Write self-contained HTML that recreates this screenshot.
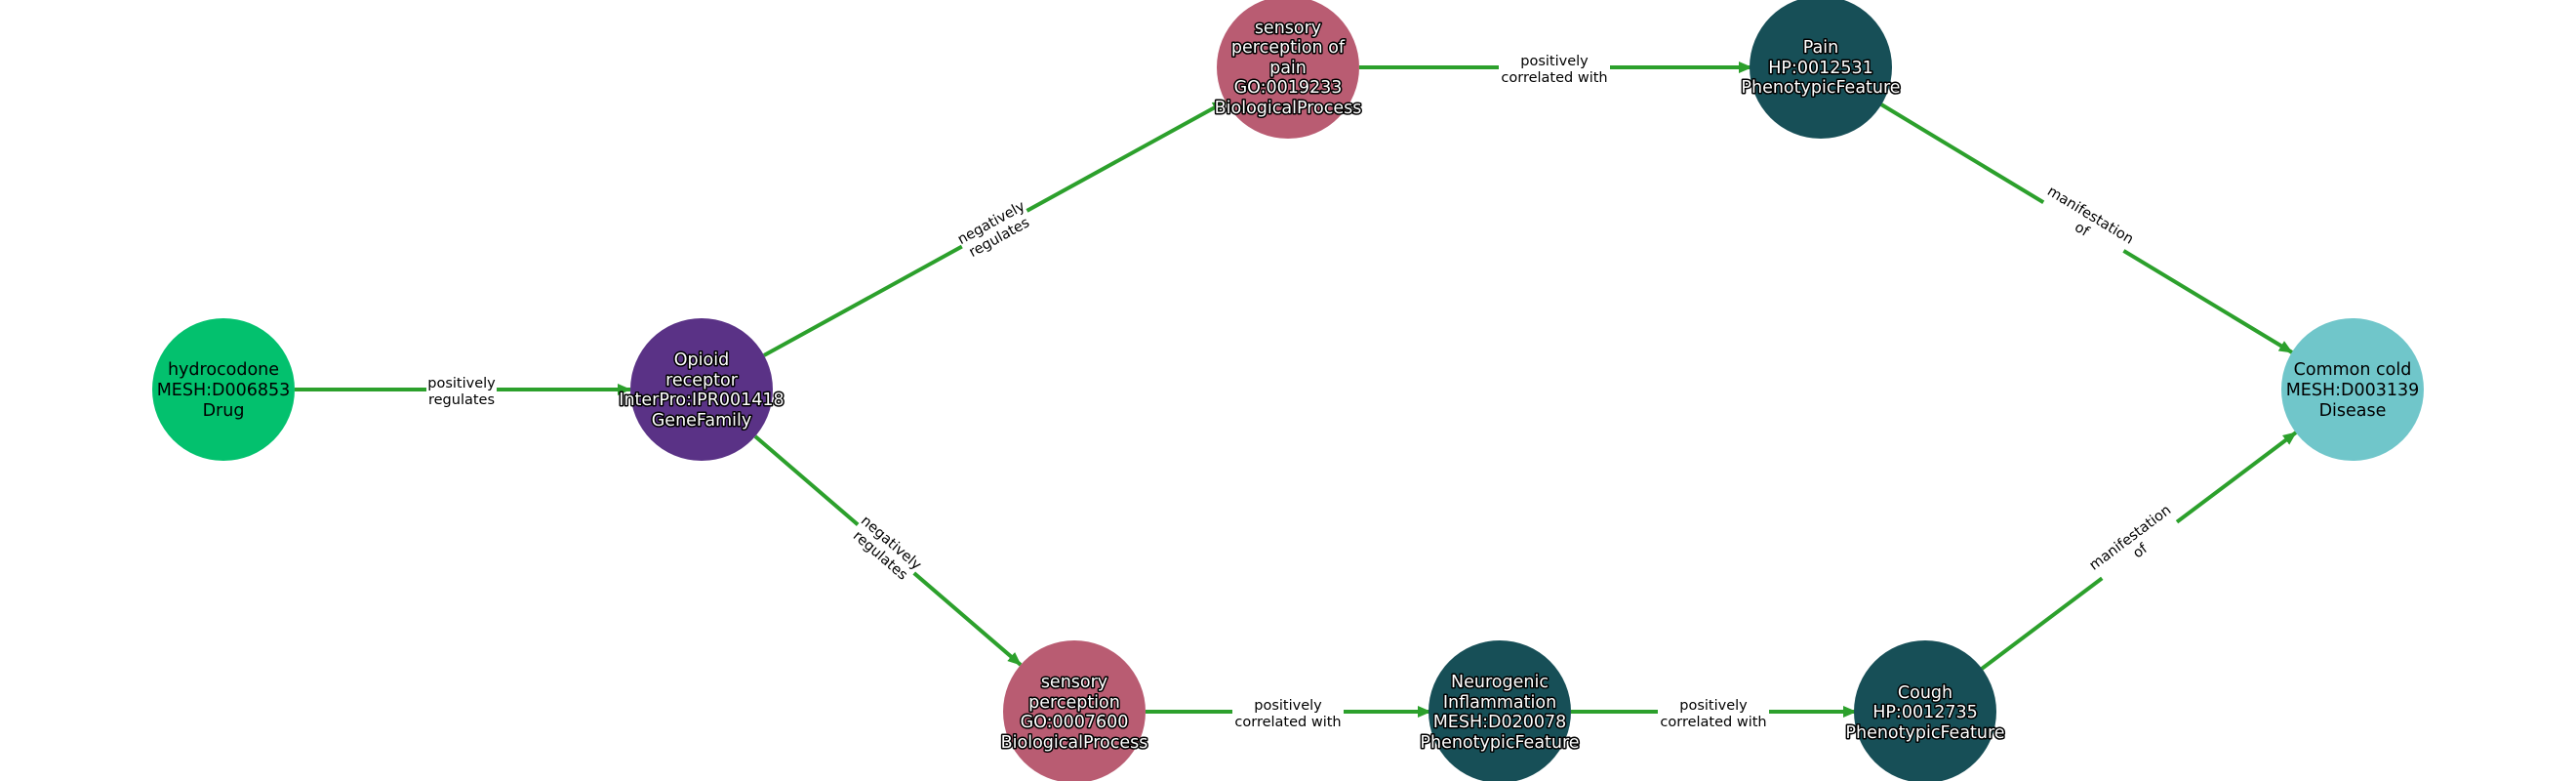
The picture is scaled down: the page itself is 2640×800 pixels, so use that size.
<!DOCTYPE html>
<html><head><meta charset="utf-8"><style>
html,body{margin:0;padding:0;background:#fff}
svg{display:block}
.n{font-family:"DejaVu Sans","Liberation Sans",sans-serif;font-size:17.5px;text-anchor:middle;fill:#fff;stroke:#000;stroke-width:3px;paint-order:stroke;stroke-linejoin:round}
.nb{font-family:"DejaVu Sans","Liberation Sans",sans-serif;font-size:17.5px;text-anchor:middle;fill:#000}
.e{font-family:"DejaVu Sans","Liberation Sans",sans-serif;font-size:14.5px;text-anchor:middle;fill:#000}
line{stroke:#2ca02c;stroke-width:4}
</style></head><body>
<svg width="2640" height="800" viewBox="0 0 2640 800" xmlns="http://www.w3.org/2000/svg">
<defs><marker id="a" markerUnits="userSpaceOnUse" markerWidth="14" markerHeight="12" refX="13" refY="6" orient="auto"><path d="M0,0 L14,6 L0,12 z" fill="#2ca02c"/></marker></defs>
<g marker-end="url(#a)">
<line x1="302" y1="399" x2="646" y2="399"/>
<line x1="783" y1="364" x2="1256" y2="104"/>
<line x1="774" y1="447" x2="1046" y2="681"/>
<line x1="1393" y1="69" x2="1795" y2="69"/>
<line x1="1928" y1="107" x2="2349" y2="361"/>
<line x1="1174" y1="729" x2="1466" y2="729"/>
<line x1="1610" y1="729" x2="1902" y2="729"/>
<line x1="2031" y1="685" x2="2353" y2="443"/>
</g>
<g transform="translate(473,399)"><rect x="-36" y="-18" width="72" height="36" fill="#fff"/><text class="e" y="-2">positively</text><text class="e" y="15">regulates</text></g>
<g transform="translate(1019,234) rotate(-28.8)"><rect x="-38" y="-18" width="76" height="36" fill="#fff"/><text class="e" y="-2">negatively</text><text class="e" y="15">regulates</text></g>
<g transform="translate(909,561) rotate(40.8)"><rect x="-38" y="-18" width="76" height="36" fill="#fff"/><text class="e" y="-2">negatively</text><text class="e" y="15">regulates</text></g>
<g transform="translate(1593,69)"><rect x="-57" y="-18" width="114" height="36" fill="#fff"/><text class="e" y="-2">positively</text><text class="e" y="15">correlated with</text></g>
<g transform="translate(2139,226) rotate(31.2)"><rect x="-48" y="-18" width="96" height="36" fill="#fff"/><text class="e" y="-2">manifestation</text><text class="e" y="15">of</text></g>
<g transform="translate(2187,556) rotate(-37)"><rect x="-48" y="-18" width="96" height="36" fill="#fff"/><text class="e" y="-2">manifestation</text><text class="e" y="15">of</text></g>
<g transform="translate(1320,729)"><rect x="-57" y="-18" width="114" height="36" fill="#fff"/><text class="e" y="-2">positively</text><text class="e" y="15">correlated with</text></g>
<g transform="translate(1756,729)"><rect x="-57" y="-18" width="114" height="36" fill="#fff"/><text class="e" y="-2">positively</text><text class="e" y="15">correlated with</text></g>
<circle cx="229" cy="399" r="73" fill="#03c16e"/>
<text class="nb" x="229" y="384">hydrocodone</text><text class="nb" x="229" y="405">MESH:D006853</text><text class="nb" x="229" y="426">Drug</text>
<circle cx="719" cy="399" r="73" fill="#5a3286"/>
<text class="n" x="719" y="374">Opioid</text><text class="n" x="719" y="395">receptor</text><text class="n" x="719" y="415">InterPro:IPR001418</text><text class="n" x="719" y="436">GeneFamily</text>
<circle cx="1320" cy="69" r="73" fill="#b95c72"/>
<text class="n" x="1320" y="34">sensory</text><text class="n" x="1320" y="54">perception of</text><text class="n" x="1320" y="75">pain</text><text class="n" x="1320" y="95">GO:0019233</text><text class="n" x="1320" y="116">BiologicalProcess</text>
<circle cx="1866" cy="69" r="73" fill="#174f57"/>
<text class="n" x="1866" y="54">Pain</text><text class="n" x="1866" y="75">HP:0012531</text><text class="n" x="1866" y="95">PhenotypicFeature</text>
<circle cx="2411" cy="399" r="73" fill="#70c6ca"/>
<text class="nb" x="2411" y="384">Common cold</text><text class="nb" x="2411" y="405">MESH:D003139</text><text class="nb" x="2411" y="426">Disease</text>
<circle cx="1101" cy="729" r="73" fill="#b95c72"/>
<text class="n" x="1101" y="704">sensory</text><text class="n" x="1101" y="725">perception</text><text class="n" x="1101" y="745">GO:0007600</text><text class="n" x="1101" y="766">BiologicalProcess</text>
<circle cx="1537" cy="729" r="73" fill="#174f57"/>
<text class="n" x="1537" y="704">Neurogenic</text><text class="n" x="1537" y="725">Inflammation</text><text class="n" x="1537" y="745">MESH:D020078</text><text class="n" x="1537" y="766">PhenotypicFeature</text>
<circle cx="1973" cy="729" r="73" fill="#174f57"/>
<text class="n" x="1973" y="715">Cough</text><text class="n" x="1973" y="735">HP:0012735</text><text class="n" x="1973" y="756">PhenotypicFeature</text>
</svg>
</body></html>
